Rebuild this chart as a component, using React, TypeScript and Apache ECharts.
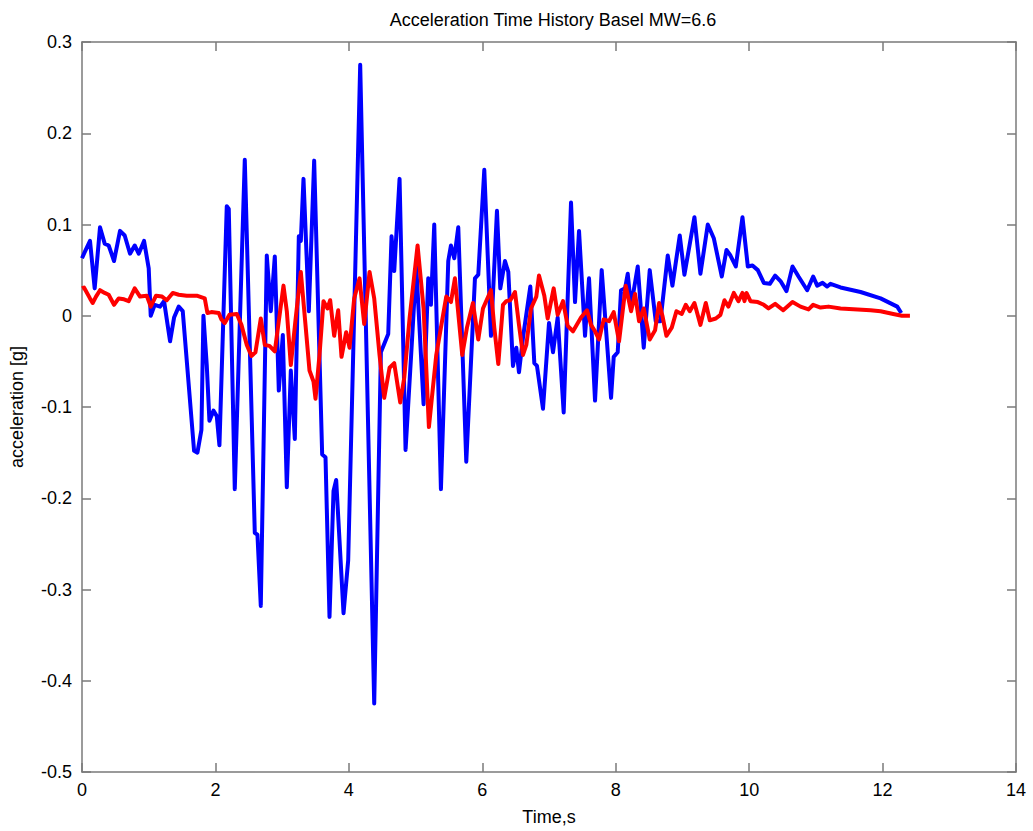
import React, { useEffect, useRef } from "react";
import * as echarts from "echarts";

const chartTitle = "Acceleration Time History Basel MW=6.6";
const xAxisName = "Time,s";
const yAxisName = "acceleration [g]";

const blueTime = [
  0.0, 0.03, 0.12, 0.19, 0.27, 0.34, 0.4, 0.48, 0.57, 0.64, 0.72, 0.79, 0.85, 0.93, 1.0, 1.03, 1.09, 1.17, 1.23, 1.32,
  1.38, 1.45, 1.51, 1.68, 1.73, 1.79, 1.82, 1.87, 1.91, 1.97, 2.02, 2.06, 2.17, 2.2, 2.29, 2.44, 2.59, 2.63, 2.68, 2.77,
  2.83, 2.89, 2.95, 3.01, 3.07, 3.13, 3.19, 3.25, 3.28, 3.32, 3.4, 3.48, 3.6, 3.65, 3.71, 3.77, 3.81, 3.92, 3.99, 4.17,
  4.38, 4.48, 4.59, 4.64, 4.68, 4.76, 4.85, 4.94, 5.01, 5.12, 5.19, 5.23, 5.28, 5.38, 5.49, 5.53, 5.58, 5.64, 5.76, 5.89,
  5.94, 6.03, 6.13, 6.22, 6.27, 6.34, 6.39, 6.46, 6.51, 6.55, 6.61, 6.72, 6.78, 6.82, 6.91, 7.0, 7.06, 7.13, 7.22, 7.33,
  7.39, 7.45, 7.54, 7.6, 7.69, 7.79, 7.93, 7.97, 8.03, 8.08, 8.14, 8.18, 8.23, 8.33, 8.42, 8.51, 8.6, 8.67, 8.78, 8.85,
  8.96, 9.03, 9.18, 9.27, 9.38, 9.47, 9.59, 9.66, 9.72, 9.8, 9.9, 9.98, 10.05, 10.13, 10.22, 10.31, 10.39, 10.47, 10.56, 10.65,
  10.74, 10.87, 10.96, 11.02, 11.1, 11.17, 11.22, 11.37, 11.67, 11.97, 12.22, 12.28,
];
const blueAccel = [
  0.063, 0.068, 0.082, 0.03, 0.097, 0.079, 0.077, 0.06, 0.093, 0.088, 0.068, 0.077, 0.068, 0.082, 0.052, 0.0, 0.012, 0.01, 0.016, -0.028,
  -0.002, 0.01, 0.005, -0.148, -0.15, -0.125, 0.0, -0.054, -0.115, -0.104, -0.11, -0.142, 0.12, 0.117, -0.19, 0.171, -0.238, -0.24, -0.318, 0.066,
  0.005, 0.065, -0.082, -0.021, -0.188, -0.06, -0.135, 0.087, 0.082, 0.15, 0.005, 0.17, -0.152, -0.155, -0.33, -0.192, -0.18, -0.326, -0.268, 0.275,
  -0.425, -0.04, -0.02, 0.087, 0.049, 0.15, -0.147, -0.035, 0.055, -0.097, 0.041, 0.012, 0.1, -0.19, 0.06, 0.077, 0.063, 0.097, -0.16, 0.041,
  0.045, 0.16, -0.022, 0.115, 0.03, 0.06, 0.048, -0.055, -0.035, -0.062, -0.024, 0.032, -0.052, -0.055, -0.102, -0.008, -0.04, -0.002, -0.106, 0.124,
  0.015, 0.093, -0.022, 0.041, -0.093, 0.05, -0.09, -0.045, -0.04, 0.028, 0.03, 0.046, 0.01, 0.054, -0.035, 0.05, -0.006, -0.006, 0.066, 0.033,
  0.088, 0.045, 0.108, 0.046, 0.1, 0.085, 0.043, 0.072, 0.066, 0.054, 0.108, 0.054, 0.055, 0.05, 0.036, 0.035, 0.044, 0.038, 0.027, 0.054,
  0.043, 0.028, 0.043, 0.033, 0.036, 0.032, 0.035, 0.031, 0.026, 0.019, 0.01, 0.003,
];

const redTime = [
  0.0, 0.03, 0.12, 0.16, 0.21, 0.27, 0.34, 0.4, 0.48, 0.55, 0.63, 0.7, 0.79, 0.87, 0.97, 1.03, 1.11, 1.2, 1.27, 1.36,
  1.45, 1.57, 1.72, 1.84, 1.88, 1.94, 2.05, 2.09, 2.14, 2.21, 2.32, 2.39, 2.47, 2.54, 2.6, 2.68, 2.74, 2.81, 2.89, 3.02,
  3.07, 3.13, 3.2, 3.28, 3.35, 3.41, 3.47, 3.5, 3.56, 3.62, 3.68, 3.72, 3.78, 3.84, 3.89, 3.96, 4.01, 4.08, 4.16, 4.23,
  4.31, 4.38, 4.46, 4.53, 4.61, 4.68, 4.77, 4.83, 4.91, 5.03, 5.12, 5.2, 5.31, 5.38, 5.46, 5.53, 5.59, 5.7, 5.77, 5.86,
  5.94, 6.01, 6.13, 6.18, 6.24, 6.31, 6.36, 6.42, 6.49, 6.55, 6.61, 6.66, 6.73, 6.81, 6.85, 6.93, 6.98, 7.07, 7.13, 7.21,
  7.28, 7.36, 7.48, 7.57, 7.63, 7.69, 7.75, 7.82, 7.9, 7.97, 8.05, 8.15, 8.23, 8.29, 8.35, 8.42, 8.51, 8.59, 8.65, 8.7,
  8.76, 8.84, 8.91, 8.99, 9.05, 9.11, 9.18, 9.27, 9.35, 9.41, 9.5, 9.57, 9.63, 9.69, 9.77, 9.84, 9.9, 9.93, 9.96, 10.02,
  10.13, 10.22, 10.29, 10.39, 10.51, 10.65, 10.77, 10.89, 10.96, 11.07, 11.19, 11.37, 11.82, 11.97, 12.16, 12.29, 12.41,
];
const redAccel = [
  0.03, 0.031, 0.019, 0.014, 0.021, 0.028, 0.025, 0.023, 0.012, 0.019, 0.018, 0.016, 0.03, 0.021, 0.022, 0.01, 0.022, 0.021, 0.017, 0.025,
  0.023, 0.022, 0.022, 0.019, 0.003, 0.004, 0.003, -0.004, -0.008, 0.001, 0.002, -0.01, -0.032, -0.044, -0.04, -0.003, -0.032, -0.033, -0.039, 0.033,
  0.005, -0.054, -0.005, 0.048, -0.01, -0.06, -0.072, -0.091, -0.043, 0.016, 0.008, 0.017, -0.022, 0.006, -0.045, -0.018, -0.035, 0.019, 0.041, -0.009,
  0.048, 0.019, -0.043, -0.09, -0.057, -0.052, -0.095, -0.068, -0.003, 0.077, 0.008, -0.122, -0.043, -0.013, 0.021, 0.015, 0.041, -0.043, -0.013, 0.014,
  -0.026, 0.008, 0.028, -0.013, -0.053, 0.012, 0.016, 0.017, 0.026, -0.01, -0.043, -0.032, 0.008, 0.021, 0.044, 0.022, -0.003, 0.03, 0.001, 0.016,
  -0.011, -0.017, -0.002, 0.006, -0.01, -0.017, -0.026, -0.004, -0.006, 0.004, -0.028, 0.033, 0.005, 0.024, -0.006, 0.008, -0.026, -0.016, 0.014, 0.0,
  -0.022, -0.013, 0.005, 0.002, 0.012, 0.005, 0.014, -0.01, 0.014, -0.005, -0.003, 0.001, 0.017, 0.01, 0.025, 0.016, 0.025, 0.016, 0.025, 0.016,
  0.015, 0.012, 0.008, 0.013, 0.006, 0.015, 0.01, 0.007, 0.012, 0.009, 0.01, 0.008, 0.006, 0.005, 0.002, 0.0, 0.0,
];

const xTicks = [0, 2, 4, 6, 8, 10, 12, 14];
const yTicks = [-0.5, -0.4, -0.3, -0.2, -0.1, 0, 0.1, 0.2, 0.3];

const FONT = "Liberation Sans, Arial, sans-serif";

const fmtY = (v: number) => {
  const r = Math.round(v * 10) / 10;
  return r === 0 ? "0" : r.toFixed(1);
};

export default function App() {
  const ref = useRef<HTMLDivElement>(null);

  useEffect(() => {
    if (!ref.current) return;
    const chart = echarts.init(ref.current, undefined, { renderer: "svg" });

    const blueData = blueTime.map((t, i) => [t, blueAccel[i]]);
    const redData = redTime.map((t, i) => [t, redAccel[i]]);

    const axisLineStyle = { color: "#7a7a7a", width: 1.5 };
    const xMin = xTicks[0];
    const xMax = xTicks[xTicks.length - 1];
    const yMin = yTicks[0];
    const yMax = yTicks[yTicks.length - 1];

    chart.setOption({
      animation: false,
      backgroundColor: "#ffffff",
      title: {
        text: chartTitle,
        left: 548,
        top: 6,
        textAlign: "center",
        textStyle: { fontFamily: FONT, fontSize: 18, fontWeight: "normal", color: "#000" },
      },
      grid: { left: 80, right: 17, top: 42, bottom: 54, containLabel: false },
      xAxis: [
        {
          type: "value",
          min: xMin,
          max: xMax,
          interval: 2,
          position: "bottom",
          name: xAxisName,
          nameLocation: "middle",
          nameGap: 36,
          nameTextStyle: { fontFamily: FONT, fontSize: 18, color: "#000" },
          axisLine: { show: true, onZero: false, lineStyle: axisLineStyle },
          axisTick: { show: true, inside: true, length: 9, lineStyle: axisLineStyle },
          axisLabel: { fontFamily: FONT, fontSize: 18, color: "#000", margin: 9, formatter: (v: number) => String(v) },
          splitLine: { show: false },
        },
        {
          type: "value",
          min: xMin,
          max: xMax,
          interval: 2,
          position: "top",
          axisLine: { show: true, onZero: false, lineStyle: axisLineStyle },
          axisTick: { show: true, inside: true, length: 9, lineStyle: axisLineStyle },
          axisLabel: { show: false },
          splitLine: { show: false },
        },
      ],
      yAxis: [
        {
          type: "value",
          min: yMin,
          max: yMax,
          interval: 0.1,
          position: "left",
          name: yAxisName,
          nameLocation: "middle",
          nameRotate: 90,
          nameGap: 56,
          nameTextStyle: { fontFamily: FONT, fontSize: 18, color: "#000" },
          axisLine: { show: true, onZero: false, lineStyle: axisLineStyle },
          axisTick: { show: true, inside: true, length: 9, lineStyle: axisLineStyle },
          axisLabel: { fontFamily: FONT, fontSize: 18, color: "#000", margin: 10, formatter: fmtY },
          splitLine: { show: false },
        },
        {
          type: "value",
          min: yMin,
          max: yMax,
          interval: 0.1,
          position: "right",
          axisLine: { show: true, onZero: false, lineStyle: axisLineStyle },
          axisTick: { show: true, inside: true, length: 9, lineStyle: axisLineStyle },
          axisLabel: { show: false },
          splitLine: { show: false },
        },
      ],
      series: [
        {
          name: "blue",
          type: "line",
          xAxisIndex: 0,
          yAxisIndex: 0,
          data: blueData,
          showSymbol: false,
          symbol: "none",
          lineStyle: { color: "#0000ff", width: 4, join: "round" },
        },
        {
          name: "red",
          type: "line",
          xAxisIndex: 0,
          yAxisIndex: 0,
          data: redData,
          showSymbol: false,
          symbol: "none",
          lineStyle: { color: "#ff0000", width: 4, join: "round" },
        },
      ],
    });

    return () => chart.dispose();
  }, []);

  return (
    <div
      ref={ref}
      style={{ position: "fixed", left: 0, top: 0, width: 1033, height: 831, background: "#fff" }}
    />
  );
}
